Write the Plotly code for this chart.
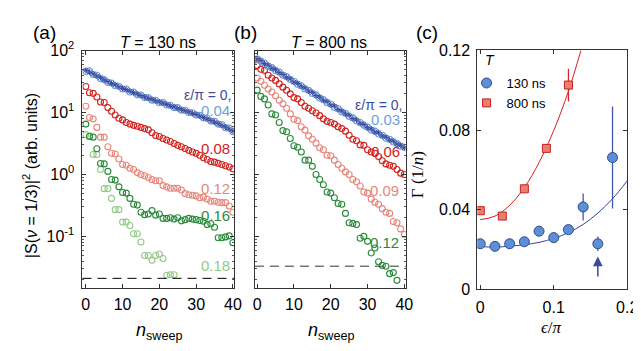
import plotly.graph_objects as go

W, H = 641, 351

# ---------------- data ----------------
n_sweep = list(range(41))

# panel (a): T = 130 ns
a_eps0 = [48, 45, 42, 39, 36.5, 33.5, 31.5, 29.5, 28, 26, 24.5, 23.5, 22, 21, 19.8, 18.8, 17.8, 17, 16.2, 15.5,
          14.8, 14.2, 13.5, 12.8, 12.3, 11.7, 11.1, 10.7, 10.2, 9.7, 9.3, 8.8, 8.3, 7.9, 7.4, 7.0, 6.6, 6.2, 5.8, 5.4, 5.0]
a_eps004 = [46, 47, 41, 40, 35, 34, 30.5, 30, 27, 26.5, 24, 24, 21.5, 21.5, 19.3, 19.2, 17.4, 17.4, 15.8, 15.8,
            14.4, 14.5, 13.2, 13.1, 12, 12, 10.9, 10.9, 10, 9.9, 9.1, 9.0, 8.2, 8.1, 7.3, 7.2, 6.5, 6.4, 5.7, 5.6, 4.9]
a_eps008 = [26.3, 20.9, 20.4, 17.8, 14.8, 14.5, 12.0, 10.5, 9.1, 8.1, 7.6, 6.9, 6.5, 6.2, 6.0, 5.75, 5.5, 5.25, 4.7, 4.25,
            4.1, 3.8, 3.6, 3.4, 3.16, 2.95, 2.8, 2.63, 2.45, 2.3, 2.19, 2.04, 1.86, 1.74, 1.62, 1.58, 1.51, 1.45, 1.38, 1.32, 1.23]
a_eps012 = [12.6, 8.3, 7.9, 5.75, 4.0, 4.0, 2.8, 2.2, 2.14, 1.78, 1.45, 1.41, 1.26, 1.2, 1.07, 1.0, 0.95, 0.89, 0.83, 0.79,
            0.79, 0.66, 0.63, 0.6, 0.6, 0.6, 0.56, 0.49, 0.47, 0.46, 0.45, 0.42, 0.43, 0.4, 0.37, 0.37, 0.355, 0.35, 0.35, 0.31, 0.245]
a_eps016 = [6.5, 4.1, 4.0, 2.6, 1.5, 1.48, 1.12, 0.83, 0.81, 0.63, 0.51, 0.5, 0.41, 0.33, 0.32, 0.245, 0.224, 0.23, 0.26, 0.22,
            0.23, 0.195, 0.195, 0.2, 0.19, 0.2, 0.178, 0.186, 0.195, 0.19, 0.186, 0.18, 0.175, 0.155, 0.16, 0.14, 0.095, 0.095,
            0.098, 0.102, 0.079]
a_eps018 = [4.4, 4.2, 2.1, 2.1, 1.2, 0.59, 0.59, 0.41, 0.27, 0.27, 0.17, 0.17, 0.15, 0.11, 0.11, 0.081, 0.049, 0.049, 0.041,
            0.049, 0.052, 0.044, 0.0235, 0.024, 0.024]
noise_a = 0.021

# panel (b): T = 800 ns
b_eps0 = [74, 69, 62, 58, 52, 49, 44, 41, 37, 35, 31, 29.5, 26.5, 25, 22.3, 21, 18.8, 17.7, 15.8, 15, 13.3, 12.7, 11.2,
          10.6, 9.5, 9.0, 8.0, 7.6, 6.7, 6.4, 5.7, 5.4, 4.85, 4.7, 4.2, 4.0, 3.6, 3.45, 3.1, 2.95, 2.7]
b_eps003 = [73, 67, 63, 56, 53, 47.5, 45, 40, 38, 34, 32, 28.5, 27, 24, 22.8, 20.3, 19.3, 17.1, 16.2, 14.4, 13.7, 12.1,
            11.6, 10.2, 9.7, 8.6, 8.2, 7.3, 6.9, 6.2, 5.8, 5.2, 5.0, 4.5, 4.3, 3.85, 3.7, 3.35, 3.15, 2.85, 2.75]
b_eps006 = [57.5, 50, 48, 40, 36, 33, 29, 25.7, 22.9, 20, 17.4, 16.6, 14.5, 12.6, 11.7, 10.7, 9.8, 8.9, 7.9, 7.2, 6.9, 6.5,
            5.9, 5.5, 5.0, 4.3, 3.7, 3.5, 3.0, 2.95, 2.5, 2.3, 2.2, 1.95, 1.66, 1.48, 1.41, 1.35, 1.2, 1.05, 1.0]
b_eps009 = [36, 32, 27.5, 24, 21.4, 18.6, 15.8, 13.8, 11.7, 9.5, 7.8, 7.4, 5.9, 5.2, 4.2, 3.7, 3.2, 2.7, 2.5, 2.04, 2.0,
            1.7, 1.45, 1.26, 1.1, 1.0, 0.83, 0.76, 0.65, 0.52, 0.5, 0.4, 0.355, 0.33, 0.28, 0.245, 0.235, 0.174, 0.166,
            0.132, 0.107]
b_eps012 = [23, 18.2, 16.6, 13.2, 9.5, 9.1, 6.9, 5.1, 4.9, 3.8, 2.9, 2.75, 2.3, 1.7, 1.7, 1.35, 1.0, 0.83, 0.68, 0.52,
            0.5, 0.42, 0.34, 0.33, 0.235, 0.166, 0.162, 0.155, 0.093, 0.1, 0.083, 0.054, 0.065, 0.039, 0.034, 0.033,
            0.025, 0.026, 0.0195]
noise_b = 0.033

# y tick labels of the log panels
log_tickvals = [0.1, 1, 10, 100]
log_ticktext = ["10<sup>-1</sup>", "10<sup>0</sup>", "10<sup>1</sup>", "10<sup>2</sup>"]

# panel (c): decay rate vs epsilon
eps_130 = [0, 0.02, 0.04, 0.06, 0.08, 0.10, 0.12, 0.14, 0.16, 0.18]
gamma_130 = [0.0229, 0.0216, 0.0229, 0.0239, 0.0292, 0.026, 0.030, 0.0414, 0.0229, 0.0662]
err_130 = [0.0012, 0.001, 0.001, 0.001, 0.0015, 0.0015, 0.0015, 0.0068, 0.0036, 0.0256]
eps_800 = [0, 0.03, 0.06, 0.09, 0.12]
gamma_800 = [0.0395, 0.0368, 0.0505, 0.0708, 0.1026]
err_800 = [0.001, 0.001, 0.0015, 0.002, 0.0082]
fit130_eps = [0, 0.02, 0.04, 0.06, 0.08, 0.10, 0.12, 0.14, 0.16, 0.18, 0.20]
fit130_gamma = [0.0215, 0.0212, 0.0217, 0.0224, 0.0236, 0.0256, 0.0285, 0.0326, 0.0383, 0.0455, 0.0545]
fit800_eps = [0, 0.02, 0.04, 0.06, 0.08, 0.10, 0.12, 0.137]
fit800_gamma = [0.035, 0.0368, 0.0422, 0.0511, 0.0637, 0.0798, 0.0995, 0.12]
arrow_eps = 0.16

# ---------------- styles ----------------
C_DBLUE = "#3d4c9e"
C_LBLUE = "#6e9fdb"
C_RED = "#d0231f"
C_SALMON = "#e8867b"
C_DGREEN = "#2a8a3c"
C_LGREEN = "#96c987"
FONT = "Liberation Sans, Arial, Helvetica, sans-serif"
SERIF = "Liberation Serif, DejaVu Serif, serif"

fig = go.Figure()


def open_circles(x, y, color, xa, ya):
    fig.add_trace(go.Scatter(x=x, y=y, mode="markers", xaxis=xa, yaxis=ya, showlegend=False,
                             marker=dict(symbol="circle-open", size=6, color=color, line=dict(width=1.1, color=color))))


def crosses(x, y, color, xa, ya):
    fig.add_trace(go.Scatter(x=x, y=y, mode="markers", xaxis=xa, yaxis=ya, showlegend=False,
                             marker=dict(symbol="asterisk-open", size=5, color=color, line=dict(width=1.0, color=color))))


# panel (a)
open_circles(n_sweep[:len(a_eps018)], a_eps018, C_LGREEN, "x", "y")
open_circles(n_sweep, a_eps016, C_DGREEN, "x", "y")
open_circles(n_sweep, a_eps012, C_SALMON, "x", "y")
open_circles(n_sweep, a_eps008, C_RED, "x", "y")
open_circles(n_sweep, a_eps004, C_LBLUE, "x", "y")
crosses(n_sweep, a_eps0, C_DBLUE, "x", "y")

# panel (b)
open_circles(n_sweep[:len(b_eps012)], b_eps012, C_DGREEN, "x2", "y2")
open_circles(n_sweep, b_eps009, C_SALMON, "x2", "y2")
open_circles(n_sweep, b_eps006, C_RED, "x2", "y2")
open_circles(n_sweep, b_eps003, C_LBLUE, "x2", "y2")
crosses(n_sweep, b_eps0, C_DBLUE, "x2", "y2")

# panel (c)
fig.add_trace(go.Scatter(x=fit130_eps, y=fit130_gamma, mode="lines", xaxis="x3", yaxis="y3", showlegend=False,
                         line=dict(color="#2c44a0", width=1, shape="spline")))
fig.add_trace(go.Scatter(x=fit800_eps, y=fit800_gamma, mode="lines", xaxis="x3", yaxis="y3", showlegend=False,
                         line=dict(color="#d42020", width=1, shape="spline")))
fig.add_trace(go.Scatter(x=eps_130, y=gamma_130, mode="markers", xaxis="x3", yaxis="y3", name="130 ns",
                         error_y=dict(type="data", array=err_130, color="#4357ad", thickness=1.3, width=0),
                         marker=dict(symbol="circle", size=10, color="#5d8fd5", line=dict(width=1, color="#2e4a95"))))
fig.add_trace(go.Scatter(x=eps_800, y=gamma_800, mode="markers", xaxis="x3", yaxis="y3", name="800 ns",
                         error_y=dict(type="data", array=err_800, color="#d02a2a", thickness=1.3, width=0),
                         marker=dict(symbol="square", size=8, color="#e8806f", line=dict(width=1, color="#c81e1e"))))

# noise floors
fig.add_shape(type="line", xref="x domain", yref="y", x0=0, x1=1, y0=noise_a, y1=noise_a,
              line=dict(color="black", width=1, dash="9px,6px"))
fig.add_shape(type="line", xref="x2 domain", yref="y2", x0=0, x1=1, y0=noise_b, y1=noise_b,
              line=dict(color="#333333", width=1, dash="9px,6px"))

# ---------------- axes ----------------
def px(v):
    return v / W


def py(v):
    return 1 - v / H


axis_common = dict(showline=True, linecolor="#333333", linewidth=1, mirror="allticks", ticks="inside",
                   ticklen=4, tickcolor="#333333", showgrid=False, zeroline=False,
                   tickfont=dict(family=FONT, size=16, color="black"))
log_minor = dict(ticks="inside", ticklen=2, tickcolor="#555555",
                 tickvals=[m * d for d in (0.01, 0.1, 1, 10) for m in range(2, 10)])

fig.update_layout(
    width=W, height=H, margin=dict(l=0, r=0, t=0, b=0),
    paper_bgcolor="white", plot_bgcolor="white",
    font=dict(family=FONT, color="black"),
    xaxis=dict(domain=[px(74), px(229)], range=[-0.9, 40.4], anchor="y", tickvals=[0, 10, 20, 30, 40],
               ticklabelstandoff=2, **axis_common),
    yaxis=dict(domain=[py(285), py(33.5)], type="log", range=[-1.83, 2.0], anchor="x",
               tickvals=log_tickvals, ticktext=log_ticktext, ticklabelstandoff=4,
               minor=log_minor, **axis_common),
    xaxis2=dict(domain=[px(250), px(404)], range=[-0.6, 40.4], anchor="y2", tickvals=[0, 10, 20, 30, 40],
                ticklabelstandoff=2, **axis_common),
    yaxis2=dict(domain=[py(285), py(33.5)], type="log", range=[-1.83, 2.0], anchor="x2",
                tickvals=log_tickvals, showticklabels=False,
                minor=log_minor, **axis_common),
    xaxis3=dict(domain=[px(477), px(630)], range=[-0.004, 0.2], anchor="y3", tickvals=[0, 0.1, 0.2],
                ticklabelstandoff=3, **axis_common),
    yaxis3=dict(domain=[py(286.7), py(33.3)], range=[0, 0.12], anchor="x3", tickvals=[0, 0.04, 0.08, 0.12],
                ticklabelstandoff=3, **axis_common),
    legend=dict(x=px(466), y=py(52), xanchor="left", yanchor="top", bgcolor="rgba(0,0,0,0)",
                font=dict(family=FONT, size=13, color="black"), tracegroupgap=0, itemwidth=30),
)


def label(text, x, y, size=15, color="black", xanchor="center", angle=0, family=FONT):
    fig.add_annotation(text=text, x=px(x), y=py(y), xref="paper", yref="paper", showarrow=False,
                       xanchor=xanchor, yanchor="middle", textangle=angle,
                       font=dict(family=family, size=size, color=color))


# panel letters & titles
label("(a)", 35, 14, size=19)
label("(b)", 240, 14, size=19)
label("(c)", 426, 14, size=19)
label("<i>T</i> = 130 ns", 151, 25, size=16)
label("<i>T</i> = 800 ns", 326, 25, size=16)

# axis titles
label("|S(<i>ν</i> = 1/3)|<sup>2</sup> (arb. units)", 20, 166, size=16, angle=-90)
label("<i>n</i><sub>sweep</sub>", 152, 331, size=18)
label("<i>n</i><sub>sweep</sub>", 328, 331, size=18)
label("<i>ϵ</i>/<i>π</i>", 553, 327, size=17, family=SERIF)
label("Γ (1/<i>n</i>)", 416, 165, size=17, angle=-90, family=SERIF)

# series labels (a)
label("ε/π = 0,", 228, 81, size=14, color=C_DBLUE, xanchor="right")
label("0.04", 227, 97, color=C_LBLUE, xanchor="right")
label("0.08", 227, 137, color=C_RED, xanchor="right")
label("0.12", 227, 180, color=C_SALMON, xanchor="right")
label("0.16", 227, 208, color=C_DGREEN, xanchor="right")
label("0.18", 227, 261, color=C_LGREEN, xanchor="right")
# series labels (b)
label("ε/π = 0,", 402, 91, size=14, color=C_DBLUE, xanchor="right")
label("0.03", 400, 107, color=C_LBLUE, xanchor="right")
label("0.06", 400, 140, color=C_RED, xanchor="right")
label("0.09", 399, 182, color=C_SALMON, xanchor="right")
label("0.12", 399, 237, color=C_DGREEN, xanchor="right")

# legend title
label("<i>T</i>", 490, 43, size=14)

# arrow in (c)
fig.add_annotation(x=arrow_eps, y=0.0165, ax=arrow_eps, ay=0.0022, xref="x3", yref="y3", axref="x3", ayref="y3",
                   showarrow=True, arrowhead=2, arrowsize=1.3, arrowwidth=1.5, arrowcolor="#3a4a9c", text=" ")

fig.write_html("out.html")
